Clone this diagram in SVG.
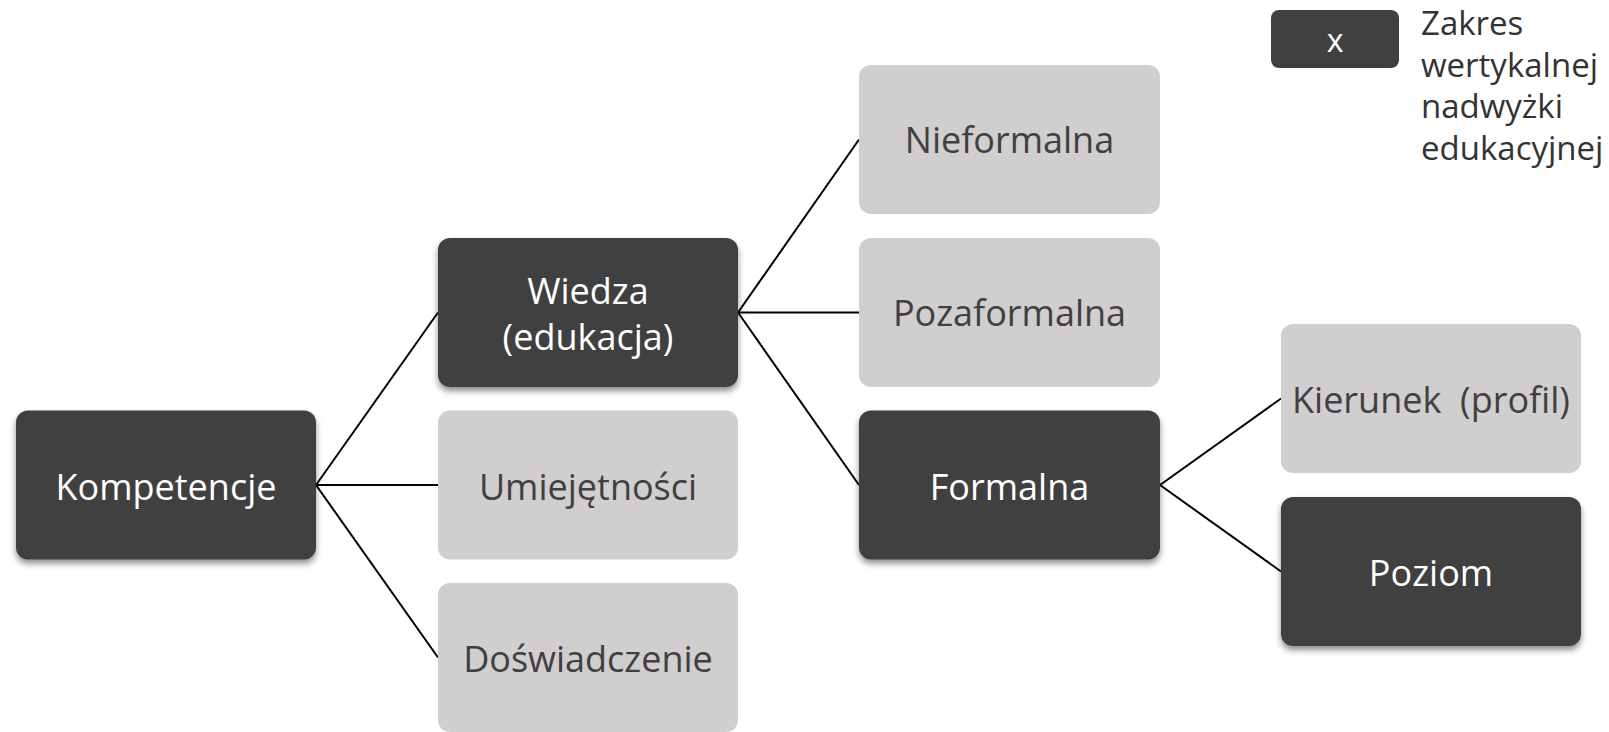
<svg xmlns="http://www.w3.org/2000/svg" width="1609" height="732" viewBox="0 0 1609 732">
<defs>
<filter id="sh" x="-10%" y="-10%" width="120%" height="130%">
<feDropShadow dx="0" dy="4" stdDeviation="3" flood-color="#000" flood-opacity="0.45"/>
</filter>
</defs>
<style>
.dark{fill:#404040;filter:url(#sh)}
.light{fill:#D0CECE}
text{font-family:"Open Sans","Liberation Sans",sans-serif;font-size:36px;text-anchor:middle}
.tw{fill:#FFFFFF}
.td{fill:#404040}
.leg{font-size:33px;text-anchor:start;fill:#333333}
.conn line{stroke:#000;stroke-width:2}
</style>
<rect width="1609" height="732" fill="#FFFFFF"/>
<g class="conn" id="connectors">
<line x1="316" y1="485" x2="438" y2="312.5"/>
<line x1="316" y1="485" x2="438" y2="485"/>
<line x1="316" y1="485" x2="438" y2="657.5"/>
<line x1="738" y1="312.5" x2="859" y2="139.5"/>
<line x1="738" y1="312.5" x2="859" y2="312.5"/>
<line x1="738" y1="312.5" x2="859" y2="485"/>
<line x1="1160" y1="485" x2="1281" y2="398.5"/>
<line x1="1160" y1="485" x2="1281" y2="571.5"/>
</g>
<g id="kompetencje"><rect class="dark" x="16" y="410.5" width="300" height="149" rx="12"/><text class="tw" x="166" y="500">Kompetencje</text></g>
<g id="wiedza"><rect class="dark" x="438" y="238" width="300" height="149" rx="12"/><text class="tw" x="588" y="304">Wiedza</text><text class="tw" x="588" y="350">(edukacja)</text></g>
<g id="umiejetnosci"><rect class="light" x="438" y="410.5" width="300" height="149" rx="12"/><text class="td" x="588" y="500">Umiejętności</text></g>
<g id="doswiadczenie"><rect class="light" x="438" y="583" width="300" height="149" rx="12"/><text class="td" x="588" y="672">Doświadczenie</text></g>
<g id="nieformalna"><rect class="light" x="859" y="65" width="301" height="149" rx="12"/><text class="td" x="1009.5" y="153">Nieformalna</text></g>
<g id="pozaformalna"><rect class="light" x="859" y="238" width="301" height="149" rx="12"/><text class="td" x="1009.5" y="326">Pozaformalna</text></g>
<g id="formalna"><rect class="dark" x="859" y="410.5" width="301" height="149" rx="12"/><text class="tw" x="1009.5" y="500">Formalna</text></g>
<g id="kierunek"><rect class="light" x="1281" y="324" width="300" height="149" rx="12"/><text class="td" x="1431" y="413" xml:space="preserve">Kierunek  (profil)</text></g>
<g id="poziom"><rect class="dark" x="1281" y="497" width="300" height="149" rx="12"/><text class="tw" x="1431" y="586">Poziom</text></g>
<g id="legend"><rect x="1271" y="10" width="128" height="58" rx="8" fill="#404040"/><text class="tw" x="1335" y="52" style="font-size:32px">x</text>
<text class="leg" x="1421" y="35">Zakres</text><text class="leg" x="1421" y="77">wertykalnej</text><text class="leg" x="1421" y="118">nadwyżki</text><text class="leg" x="1421" y="160">edukacyjnej</text></g>
</svg>
